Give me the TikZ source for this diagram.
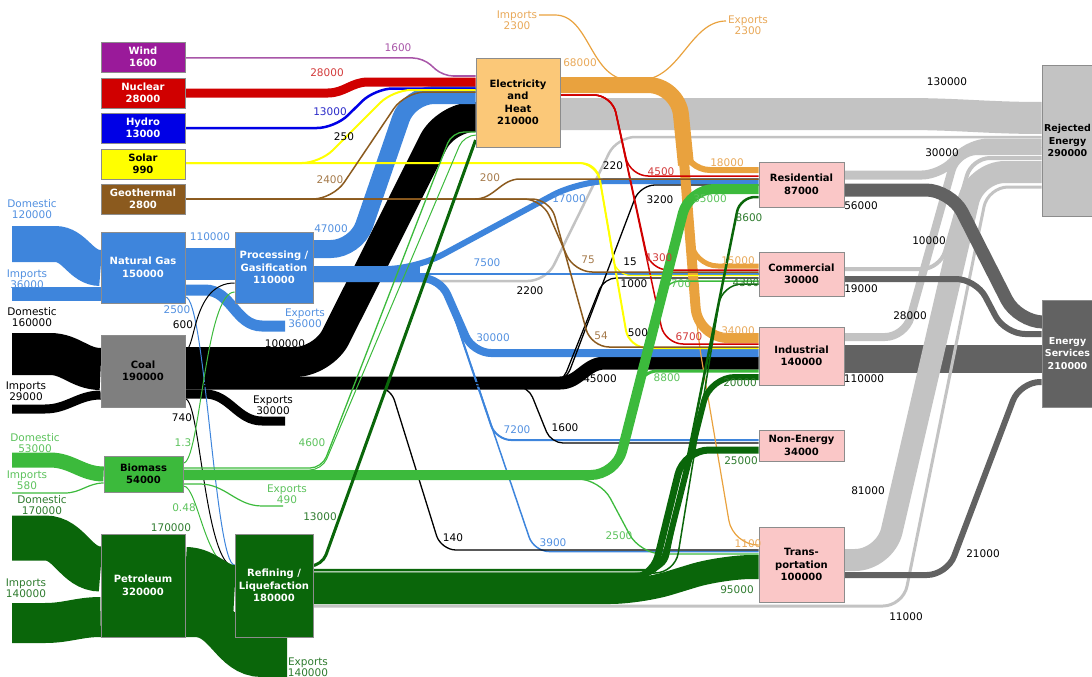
\documentclass[tikz,border=0pt]{standalone}
\usepackage{fontspec}
\setmainfont{DejaVu Sans}
\usetikzlibrary{backgrounds}
\definecolor{windc}{HTML}{9A1A9A}
\definecolor{windl}{HTML}{A855A8}
\definecolor{nukec}{HTML}{D00000}
\definecolor{nukel}{HTML}{D23A3A}
\definecolor{hydroc}{HTML}{0000E6}
\definecolor{hydrol}{HTML}{2A2AC8}
\definecolor{solarc}{HTML}{FFFF00}
\definecolor{geoc}{HTML}{8B5A1E}
\definecolor{geol}{HTML}{A57A4A}
\definecolor{gasc}{HTML}{3E85DC}
\definecolor{gasl}{HTML}{5290E0}
\definecolor{coalc}{HTML}{7F7F7F}
\definecolor{bioc}{HTML}{3CBA3C}
\definecolor{biol}{HTML}{5CC25C}
\definecolor{petc}{HTML}{0A660A}
\definecolor{petl}{HTML}{2E7B2E}
\definecolor{elecc}{HTML}{FBC878}
\definecolor{heatc}{HTML}{E9A23E}
\definecolor{heatl}{HTML}{E8A858}
\definecolor{usec}{HTML}{FAC7C7}
\definecolor{rejc}{HTML}{C3C3C3}
\definecolor{servc}{HTML}{626262}
\begin{document}
\begin{tikzpicture}[x=1pt, y=-1pt,
  box/.style={draw=black!45, line width=0.8pt, align=center, inner sep=0pt, font=\bfseries\fontsize{10}{12.5}\selectfont},
  edgebox/.style={box, font=\bfseries\fontsize{9.5}{12.5}\selectfont, minimum width=51pt},
  lbl/.style={align=center, inner sep=0pt, font=\fontsize{10.5}{11}\selectfont},
  flow/.style={line width=#1},
  rc/.style={rounded corners=#1}
]
\useasboundingbox (0,0) rectangle (1092,677);

\node[box, fill=windc, text=white, minimum width=84pt, minimum height=30pt] (wind) at (143,57) {Wind\\1600};
\node[box, fill=nukec, text=white, minimum width=84pt, minimum height=30pt] (nuke) at (143,93) {Nuclear\\28000};
\node[box, fill=hydroc, text=white, minimum width=84pt, minimum height=30pt] (hydro) at (143,128) {Hydro\\13000};
\node[box, fill=solarc, minimum width=84pt, minimum height=30pt] (solar) at (143,164) {Solar\\990};
\node[box, fill=geoc, text=white, minimum width=84pt, minimum height=30pt] (geo) at (143,199) {Geothermal\\2800};
\node[box, fill=gasc, text=white, minimum width=84pt, minimum height=71pt] (gas) at (143,267.5) {Natural Gas\\150000};
\node[box, fill=gasc, text=white, minimum width=78pt, minimum height=71pt] (proc) at (274,267.5) {Processing /\\Gasification\\110000};
\node[box, fill=coalc, minimum width=84pt, minimum height=72pt] (coal) at (143,371) {Coal\\190000};
\node[box, fill=bioc, minimum width=79pt, minimum height=36pt] (bio) at (143.5,474) {Biomass\\54000};
\node[box, fill=petc, text=white, minimum width=84pt, minimum height=103pt] (petro) at (143,585.5) {Petroleum\\320000};
\node[box, fill=petc, text=white, minimum width=78pt, minimum height=103pt] (refin) at (274,585.5) {Refining /\\Liquefaction\\180000};
\node[box, fill=elecc, minimum width=84pt, minimum height=89pt] (elec) at (518,102.5) {Electricity\\and\\Heat\\210000};
\node[box, fill=usec, minimum width=85pt, minimum height=45pt] (resid) at (801.5,184.5) {Residential\\87000};
\node[box, fill=usec, minimum width=85pt, minimum height=44pt] (comm) at (801.5,274) {Commercial\\30000};
\node[box, fill=usec, minimum width=85pt, minimum height=58pt] (indus) at (801.5,356) {Industrial\\140000};
\node[box, fill=usec, minimum width=85pt, minimum height=31pt] (nonen) at (801.5,445.5) {Non-Energy\\34000};
\node[box, fill=usec, minimum width=85pt, minimum height=75pt] (trans) at (801.5,564.5) {Trans-\\portation\\100000};
\node[edgebox, fill=rejc, minimum height=151pt] (reject) at (1067.5,140.5) {Rejected\\Energy\\290000};
\node[edgebox, fill=servc, text=white, minimum height=107pt] (servs) at (1067.5,353.5) {Energy\\Services\\210000};

\coordinate (ngdom) at (12,244);
\coordinate (ngimp) at (12,294);
\coordinate (ngexp) at (285,326);
\coordinate (coaldom) at (12,354);
\coordinate (coalimp) at (12,409);
\coordinate (coalexp) at (285,421);
\coordinate (biodom) at (12,460);
\coordinate (bioimp) at (12,493);
\coordinate (bioexp) at (283,506);
\coordinate (petdom) at (12,538);
\coordinate (petimp) at (12,623);
\coordinate (petexp) at (287,656);
\coordinate (heatimp) at (539,15);
\coordinate (heatjoin) at (630,80);
\coordinate (heatexp) at (726,21);

\begin{scope}[on background layer]
\draw[servc, flow=28pt] (indus.east |- 0,359) -- (servs.west |- 0,359);
\draw[rejc, flow=32pt] (elec.east |- 0,114) -- (905,114) to[out=0,in=180] (reject.west |- 0,118);
\draw[rejc, flow=2.5pt, rc=18pt] (proc.east |- 0,281) -- (546,281) -- (617,137) -- (reject.west |- 0,137);
\draw[rejc, flow=9pt, rc=18pt] (resid.east |- 0,175) -- (940,175) -- (970,143) -- (reject.west |- 0,143);
\draw[rejc, flow=8pt, rc=20pt] (indus.east |- 0,337) -- (905,337) -- (957,151) -- (reject.west |- 0,151);
\draw[rejc, flow=4pt, rc=18pt] (comm.east |- 0,269) -- (940,269) -- (972,158) -- (reject.west |- 0,158);
\draw[rejc, flow=22pt, rc=30pt] (trans.east |- 0,560) -- (885,560) -- (975,172) -- (reject.west |- 0,172);
\draw[rejc, flow=3pt, rc=20pt] (refin.east |- 0,606) -- (903,606) -- (988,187) -- (reject.west |- 0,187);
\draw[servc, flow=13pt, rc=25pt] (resid.east |- 0,190) -- (951,190) -- (1018,322) -- (servs.west |- 0,322);
\draw[servc, flow=6pt, rc=20pt] (comm.east |- 0,279) -- (976,279) -- (1005,334) -- (servs.west |- 0,334);
\draw[servc, flow=6pt, rc=20pt] (trans.east |- 0,575) -- (947,575) -- (1020,382) -- (servs.west |- 0,382);

\draw[gasc, flow=36pt] (ngdom) -- (55,244) to[out=0,in=180] (gas.west |- 0,268);
\draw[gasc, flow=14pt] (ngimp) -- (50,294) to[out=0,in=180] (gas.west |- 0,294);
\draw[gasc, flow=32pt] (gas.east |- 0,264) -- (proc.west |- 0,264);
\draw[gasc, flow=11pt] (gas.east |- 0,290) -- (205,290) to[out=0,in=180] (262,326) -- (ngexp);

\draw[black, flow=42pt] (coaldom) -- (50,354) to[out=0,in=180] (coal.west |- 0,369);
\draw[black, flow=9pt] (coalimp) -- (45,409) to[out=0,in=180] (coal.west |- 0,395);
\draw[black, flow=9pt] (coal.east |- 0,394) -- (205,394) to[out=0,in=180] (262,421) -- (coalexp);
\draw[black, flow=30pt, rc=28pt] (coal.east |- 0,362) -- (323,362) -- (446,117) -- (elec.west |- 0,117);
\draw[black, flow=13pt] (coal.east |- 0,383) -- (560,383) to[out=0,in=180] (605,363) -- (indus.west |- 0,363);

\draw[gasc, flow=18pt, rc=25pt] (proc.east |- 0,249) -- (356,249) -- (409,95) -- (elec.west |- 0,95);
\draw[gasc, flow=16pt] (proc.east |- 0,274) -- (420,274);
\draw[gasc, flow=6pt, rc=30pt] (proc.east |- 0,269) -- (416,269) -- (579,181) -- (resid.west |- 0,181);
\draw[gasc, flow=2.5pt] (proc.east |- 0,274) -- (comm.west |- 0,274);
\draw[gasc, flow=8pt, rc=18pt] (proc.east |- 0,278) -- (440,278) -- (473,353) -- (indus.west |- 0,353);
\draw[gasc, flow=2pt, rc=15pt] (proc.east |- 0,280) -- (442,280) -- (496,440) -- (nonen.west |- 0,440);
\draw[gasc, flow=1.5pt, rc=15pt] (proc.east |- 0,280) -- (442,280) -- (534,551.5) -- (trans.west |- 0,551.5);
\draw[gasc, flow=1pt] (gas.east |- 0,297) .. controls (205,297) and (215,565) .. (refin.west |- 0,565);

\draw[black, flow=1pt] (coal.east |- 0,350) .. controls (196,350) and (192,283) .. (proc.west |- 0,283);
\draw[black, flow=1pt] (coal.east |- 0,399) .. controls (200,399) and (205,567) .. (refin.west |- 0,567);
\draw[black, flow=1.3pt, rc=15pt] (coal.east |- 0,386) -- (390,386) -- (441,550) -- (trans.west |- 0,550);
\draw[black, flow=1.3pt, rc=12pt] (coal.east |- 0,386) -- (528,386) -- (551,443) -- (nonen.west |- 0,443);
\draw[black, flow=1.3pt, rc=15pt] (coal.east |- 0,383) -- (565,383) -- (640,185) -- (resid.west |- 0,185);
\draw[black, flow=1.3pt, rc=12pt] (coal.east |- 0,383) -- (562,383) -- (604,278) -- (comm.west |- 0,278);

\draw[heatc, flow=16pt, rc=30pt] (elec.east |- 0,85) -- (678,85) -- (686,165);
\draw[heatc, flow=10pt, rc=30pt] (elec.east |- 0,85) -- (678,85) -- (698,338) -- (indus.west |- 0,338);
\draw[heatc, flow=6pt, rc=25pt] (elec.east |- 0,85) -- (678,85) -- (685,170) -- (resid.west |- 0,170);
\draw[heatc, flow=5pt, rc=25pt] (elec.east |- 0,85) -- (678,85) -- (693,266) -- (comm.west |- 0,266);
\draw[heatc, flow=1.2pt, rc=25pt] (elec.east |- 0,85) -- (678,85) -- (698,338) -- (733,545) -- (trans.west |- 0,545);
\draw[heatc, flow=1.2pt] (elec.east |- 0,80) -- (640,80) .. controls (680,80) and (690,21) .. (heatexp);
\draw[heatc, flow=1.2pt] (heatimp) -- (555,15) .. controls (590,15) and (590,80) .. (heatjoin);

\draw[nukec, flow=1.5pt, rc=18pt] (elec.east |- 0,95) -- (612,95) -- (665,344) -- (indus.west |- 0,344);
\draw[nukec, flow=1.5pt, rc=18pt] (elec.east |- 0,95) -- (612,95) -- (630,176) -- (resid.west |- 0,176);
\draw[nukec, flow=1.5pt, rc=18pt] (elec.east |- 0,95) -- (612,95) -- (650,270) -- (comm.west |- 0,270);
\draw[nukec, flow=9pt] (nuke.east |- 0,93) -- (328,93) to[out=0,in=180] (368,82) -- (elec.west |- 0,82);
\draw[windl, flow=1.5pt, rc=10pt] (wind.east |- 0,58) -- (423,58) -- (443,76) -- (elec.west |- 0,76);
\draw[hydroc, flow=2.5pt, rc=18pt] (hydro.east |- 0,128) -- (335,128) -- (375,88.5) -- (elec.west |- 0,88.5);
\draw[solarc, flow=2pt, rc=18pt] (solar.east |- 0,163) -- (320,163) -- (393,90) -- (elec.west |- 0,90);
\draw[solarc, flow=2pt, rc=18pt] (solar.east |- 0,163) -- (597,163) -- (629,348) -- (indus.west |- 0,348);
\draw[solarc, flow=1.2pt, rc=15pt] (solar.east |- 0,163) -- (597,163) -- (616,275.5) -- (comm.west |- 0,275.5);
\draw[geoc, flow=1.5pt, rc=20pt] (geo.east |- 0,199) -- (333,199) -- (405,92) -- (elec.west |- 0,92);
\draw[geoc, flow=1.5pt] (geo.east |- 0,199) -- (475,199) to[out=0,in=180] (520,179) -- (resid.west |- 0,179);
\draw[geoc, flow=1.5pt, rc=18pt] (geo.east |- 0,199) -- (542,199) -- (574,272) -- (comm.west |- 0,272);
\draw[geoc, flow=1.5pt, rc=18pt] (geo.east |- 0,199) -- (550,199) -- (591,347) -- (indus.west |- 0,347);

\draw[bioc, flow=15pt] (biodom) -- (50,460) to[out=0,in=180] (bio.west |- 0,474);
\draw[bioc, flow=1.2pt] (bioimp) -- (65,493) to[out=0,in=180] (bio.west |- 0,483);
\draw[bioc, flow=1.2pt] (bio.east |- 0,484) -- (200,484) to[out=0,in=180] (262,506) -- (bioexp);
\draw[bioc, flow=1pt] (bio.east |- 0,463) .. controls (200,463) and (205,292) .. (proc.west |- 0,292);
\draw[bioc, flow=1pt] (bio.east |- 0,486) .. controls (198,486) and (205,569) .. (refin.west |- 0,569);
\draw[bioc, flow=1.3pt, rc=12pt] (bio.east |- 0,468) -- (322,468) -- (452,132) -- (elec.west |- 0,132);
\draw[bioc, flow=1pt, rc=12pt] (bio.east |- 0,470) -- (322,470) -- (464,135) -- (elec.west |- 0,135);
\draw[bioc, flow=10pt, rc=25pt] (bio.east |- 0,475) -- (616,475) -- (689,189) -- (resid.west |- 0,189);
\draw[bioc, flow=3pt, rc=15pt] (bio.east |- 0,475) -- (616,475) -- (642,371) -- (indus.west |- 0,371);
\draw[bioc, flow=1.5pt, rc=15pt] (bio.east |- 0,475) -- (616,475) -- (665,281) -- (comm.west |- 0,281);
\draw[bioc, flow=1.3pt, rc=22pt] (bio.east |- 0,479) -- (600,479) -- (640,554) -- (trans.west |- 0,554);

\draw[petc, flow=45pt] (petdom) -- (45,538) to[out=0,in=180] (petro.west |- 0,569);
\draw[petc, flow=40pt] (petimp) -- (45,623) to[out=0,in=180] (petro.west |- 0,617);
\draw[petc, flow=50pt] (petro.east |- 0,572) to[out=0,in=180] (refin.west |- 0,590);
\draw[petc, flow=42pt] (petro.east |- 0,616) -- (195,616) to[out=0,in=180] (262,656) -- (petexp);
\draw[petc, flow=3pt, rc=12pt] (refin.east |- 0,566) -- (322,566) -- (elec.west |- 0,140);
\draw[petc, flow=24pt, rc=30pt] (refin.east |- 0,592) -- (640,592) -- (722,567) -- (trans.west |- 0,567);
\draw[petc, flow=7pt, rc=25pt] (refin.east |- 0,580) -- (652,580) -- (684,450) -- (nonen.west |- 0,450);
\draw[petc, flow=6pt, rc=25pt] (refin.east |- 0,576) -- (660,576) -- (710,377) -- (indus.west |- 0,377);
\draw[petc, flow=1.5pt, rc=20pt] (refin.east |- 0,573) -- (675,573) -- (722,284) -- (comm.west |- 0,284);
\draw[petc, flow=2.5pt, rc=15pt] (refin.east |- 0,570) -- (665,570) -- (740,197) -- (resid.west |- 0,197);
\end{scope}

\node[lbl, gasl] (lgasdom) at (32,209) {Domestic\\120000};
\node[lbl, gasl] (lgasimp) at (27,279) {Imports\\36000};
\node[lbl, gasl] (lgasproc) at (210,237) {110000};
\node[lbl, gasl] (lgaselec) at (331,229) {47000};
\node[lbl, gasl] (lgasexp) at (305,318) {Exports\\36000};
\node[lbl, gasl] (lgasref) at (177,310) {2500};
\node[lbl, gasl] (lgascom) at (487,263) {7500};
\node[lbl, gasl] (lgasres) at (569,199) {17000};
\node[lbl, gasl] (lgasind) at (493,338) {30000};
\node[lbl, gasl] (lgasnon) at (517,430) {7200};
\node[lbl, gasl] (lgastra) at (553,543) {3900};

\node[lbl] (lcoaldom) at (32,317) {Domestic\\160000};
\node[lbl] (lcoalimp) at (26,391) {Imports\\29000};
\node[lbl] (lcoalproc) at (183,325) {600};
\node[lbl] (lcoalref) at (182,418) {740};
\node[lbl] (lcoalelec) at (285,344) {100000};
\node[lbl] (lcoalexp) at (273,405) {Exports\\30000};
\node[lbl] (lcoaltra) at (453,538) {140};
\node[lbl] (lcoalnon) at (565,428) {1600};
\node[lbl] (lcoalind) at (600,379) {45000};
\node[lbl] (lcoalres) at (660,200) {3200};
\node[lbl] (lcoalcom) at (634,284) {1000};
\node[lbl] (lproclos) at (530,291) {2200};
\node[lbl] (lgray) at (613,166) {220};
\node[lbl] (lsolelec) at (344,137) {250};
\node[lbl] (lsolcom) at (630,262) {15};
\node[lbl] (lsolind) at (638,333) {500};

\node[lbl, windl] (lwind) at (398,48) {1600};
\node[lbl, nukel] (lnuke) at (327,73) {28000};
\node[lbl, nukel] (lelres) at (661,172) {4500};
\node[lbl, nukel] (lelcom) at (659,258) {1300};
\node[lbl, nukel] (lelind) at (689,337) {6700};
\node[lbl, hydrol] (lhydro) at (330,112) {13000};
\node[lbl, geol] (lgeoelec) at (330,180) {2400};
\node[lbl, geol] (lgeores) at (490,178) {200};
\node[lbl, geol] (lgeocom) at (588,260) {75};
\node[lbl, geol] (lgeoind) at (601,336) {54};

\node[lbl, heatl] (lheat) at (580,63) {68000};
\node[lbl, heatl] (lheatimp) at (517,20) {Imports\\2300};
\node[lbl, heatl] (lheatexp) at (748,25) {Exports\\2300};
\node[lbl, heatl] (lheatres) at (727,163) {18000};
\node[lbl, heatl] (lheatcom) at (738,261) {15000};
\node[lbl, heatl] (lheatind) at (738,331) {34000};
\node[lbl, heatl] (lheattra) at (748,544) {1100};

\node[lbl, biol] (lbiodom) at (35,443) {Domestic\\53000};
\node[lbl, biol] (lbioimp) at (27,480) {Imports\\580};
\node[lbl, biol] (lbioproc) at (183,443) {1.3};
\node[lbl, biol] (lbioref) at (184,508) {0.48};
\node[lbl, biol] (lbioexp) at (287,494) {Exports\\490};
\node[lbl, biol] (lbioelec) at (312,443) {4600};
\node[lbl, biol] (lbiores) at (710,199) {35000};
\node[lbl, biol] (lbiocom) at (681,284) {700};
\node[lbl, biol] (lbioind) at (667,378) {8800};
\node[lbl, biol] (lbiotra) at (619,536) {2500};

\node[lbl, petl] (lpetdom) at (42,505) {Domestic\\170000};
\node[lbl, petl] (lpetimp) at (26,588) {Imports\\140000};
\node[lbl, petl] (lpetref) at (171,528) {170000};
\node[lbl, petl] (lpetexp) at (308,667) {Exports\\140000};
\node[lbl, petl] (lrefelec) at (320,517) {13000};
\node[lbl, petl] (lrefres) at (749,218) {8600};
\node[lbl, petl] (lrefcom) at (746,283) {4300};
\node[lbl, petl] (lrefind) at (740,383) {20000};
\node[lbl, petl] (lrefnon) at (741,461) {25000};
\node[lbl, petl] (lreftra) at (737,590) {95000};

\node[lbl] (lrejelec) at (947,82) {130000};
\node[lbl] (lrejres) at (942,153) {30000};
\node[lbl] (lserres) at (861,206) {56000};
\node[lbl] (lrejcom) at (929,241) {10000};
\node[lbl] (lsercom) at (861,289) {19000};
\node[lbl] (lrejind) at (910,316) {28000};
\node[lbl] (lserind) at (864,379) {110000};
\node[lbl] (lrejtra) at (868,491) {81000};
\node[lbl] (lsertra) at (983,554) {21000};
\node[lbl] (lrejref) at (906,617) {11000};
\end{tikzpicture}
\end{document}
